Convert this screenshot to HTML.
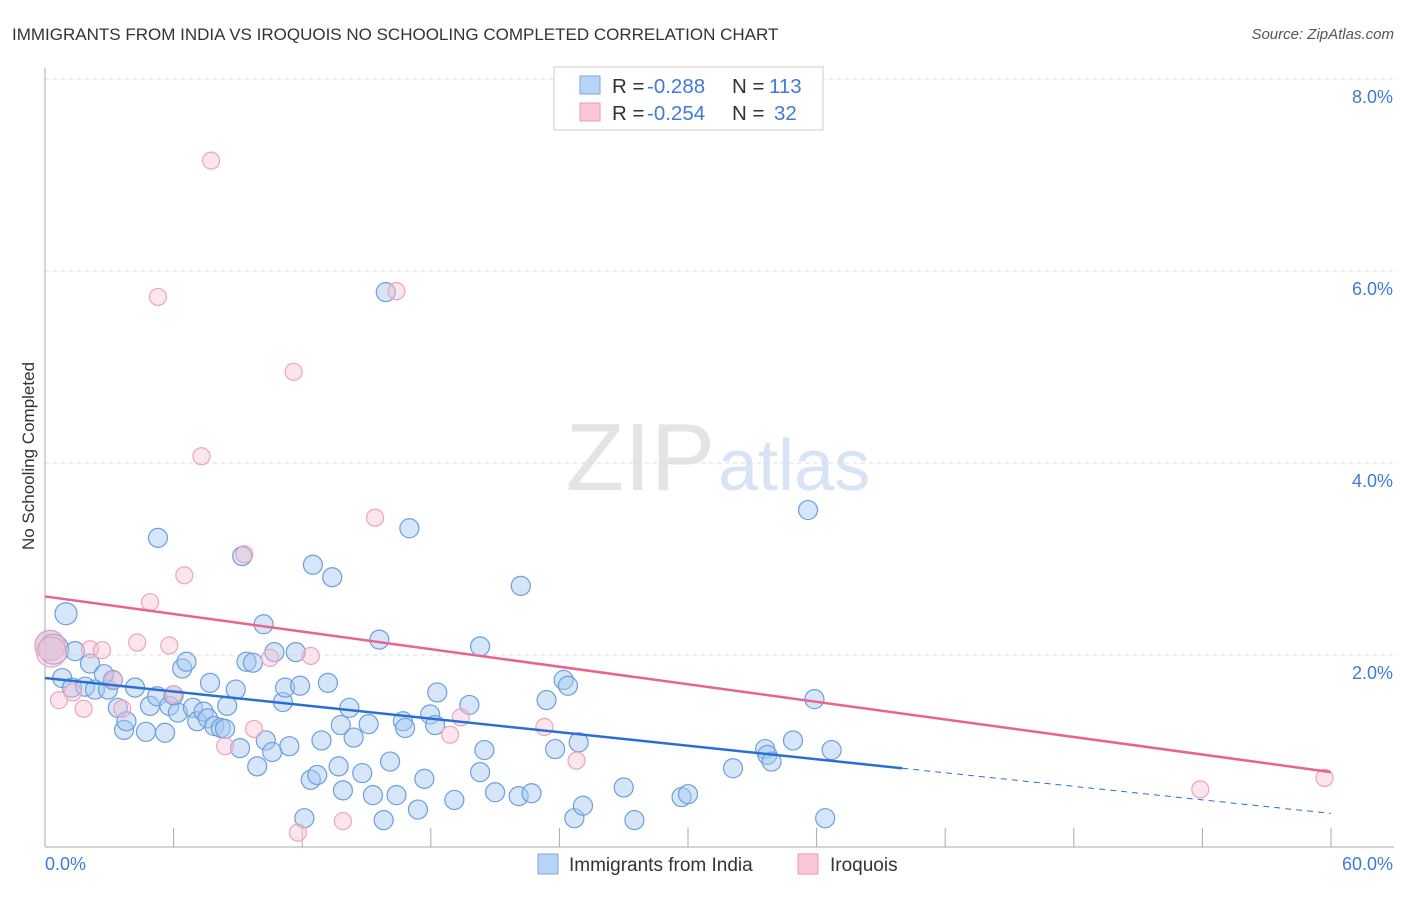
<!DOCTYPE html>
<html><head><meta charset="utf-8"><style>
body{margin:0;background:#fff;font-family:"Liberation Sans",sans-serif;}
svg text{font-family:"Liberation Sans",sans-serif;}
</style></head><body>
<svg width="1406" height="892" xmlns="http://www.w3.org/2000/svg">
<text x="12" y="40" font-size="17" fill="#333">IMMIGRANTS FROM INDIA VS IROQUOIS NO SCHOOLING COMPLETED CORRELATION CHART</text>
<text x="1394" y="39" font-size="15" fill="#555" text-anchor="end" font-style="italic">Source: ZipAtlas.com</text>
<text x="715" y="490" font-size="96" fill="#e4e4e4" text-anchor="end" font-family="Liberation Serif">ZIP</text>
<text x="718" y="490" font-size="72" fill="#d6e4f5">atlas</text>
<g id="grid"></g>
<g id="axes"></g>
<g id="pts"></g>
<g id="lines"></g>
<text transform="translate(34,456) rotate(-90)" font-size="17" fill="#333" text-anchor="middle">No Schooling Completed</text>
<text x="45" y="870" font-size="18" fill="#3d7bd9">0.0%</text>
<text x="1393" y="870" font-size="18" fill="#3d7bd9" text-anchor="end">60.0%</text>
<g>
<rect x="554" y="67" width="269" height="63" fill="#fff" stroke="#ccc"/>
<rect x="580" y="76" width="20" height="18" fill="#b8d3f5" stroke="#7aa7e3"/>
<rect x="580" y="103" width="20" height="18" fill="#f9c7d6" stroke="#ec9ab3"/>
<text x="612" y="93" font-size="20.5" fill="#333">R =</text>
<text x="647" y="93" font-size="20.5" fill="#3d7bd9">-0.288</text>
<text x="732" y="93" font-size="20.5" fill="#333">N =</text>
<text x="769" y="93" font-size="20.5" fill="#3d7bd9">113</text>
<text x="612" y="120" font-size="20.5" fill="#333">R =</text>
<text x="647" y="120" font-size="20.5" fill="#3d7bd9">-0.254</text>
<text x="732" y="120" font-size="20.5" fill="#333">N =</text>
<text x="774" y="120" font-size="20.5" fill="#3d7bd9">32</text>
</g>
<g>
<rect x="538" y="854" width="20" height="20" fill="#b8d3f5" stroke="#7aa7e3"/>
<text x="569" y="871" font-size="19" fill="#333">Immigrants from India</text>
<rect x="798" y="854" width="20" height="20" fill="#f9c7d6" stroke="#ec9ab3"/>
<text x="830" y="871" font-size="19" fill="#333">Iroquois</text>
</g>
</svg>
<script>
const yTicks=[2,4,6,8];
const yTickLabels=["2.0%","4.0%","6.0%","8.0%"];
const xTicks=[0,6,12,18,24,30,36,42,48,54,60];
const indiaX=[0.98,0.23,0.4,1.4,2.1,0.8,1.26,1.87,2.33,2.94,3.17,2.75,4.2,3.4,3.69,3.8,4.71,4.9,5.23,5.6,5.27,5.8,6.2,6.4,6.6,6.0,6.9,7.1,7.4,7.7,7.6,7.9,8.2,8.4,8.5,8.9,9.1,9.2,9.4,9.7,9.9,10.2,10.3,10.6,10.7,11.1,11.2,11.4,11.7,11.9,12.5,12.4,12.7,12.1,12.9,13.2,13.4,13.7,13.9,13.8,14.2,14.4,14.8,15.1,15.3,15.6,15.9,15.8,16.1,16.4,16.7,16.8,17.0,17.4,17.7,17.97,18.2,18.3,19.1,19.8,20.3,20.3,20.5,21.0,22.1,22.2,22.7,23.4,23.8,24.2,24.4,24.7,24.9,25.1,27.0,27.5,29.7,30.0,32.1,33.6,33.7,33.9,34.9,35.6,35.9,36.4,36.7];
const indiaY=[2.43,2.10,2.06,2.04,1.91,1.76,1.66,1.67,1.64,1.64,1.74,1.80,1.66,1.45,1.22,1.31,1.20,1.47,1.57,1.19,3.22,1.47,1.40,1.86,1.93,1.58,1.45,1.31,1.41,1.71,1.34,1.26,1.24,1.23,1.47,1.64,1.03,3.03,1.93,1.92,0.84,2.32,1.11,0.99,2.03,1.51,1.66,1.05,2.03,1.68,2.94,0.70,0.75,0.30,1.11,1.71,2.81,0.84,0.59,1.27,1.45,1.14,0.77,1.28,0.54,2.16,5.78,0.28,0.89,0.54,1.31,1.24,3.32,0.39,0.71,1.38,1.27,1.61,0.49,1.48,0.78,2.09,1.01,0.57,0.53,2.72,0.56,1.53,1.02,1.74,1.68,0.30,1.09,0.43,0.62,0.28,0.52,0.55,0.82,1.02,0.96,0.89,1.11,3.51,1.54,0.30,1.01];
const iroqX=[0.23,0.3,0.65,1.3,1.8,2.1,2.66,3.2,3.6,4.3,4.9,5.27,5.8,6.0,6.5,7.3,7.75,8.4,9.3,9.75,10.5,11.6,11.8,12.4,13.9,15.4,16.4,18.9,19.4,23.3,24.8,53.9,59.7];
const iroqY=[2.10,2.03,1.53,1.61,1.44,2.06,2.05,1.74,1.44,2.13,2.55,5.73,2.10,1.59,2.83,4.07,7.15,1.05,3.05,1.23,1.97,4.95,0.15,1.99,0.27,3.43,5.79,1.17,1.35,1.25,0.90,0.60,0.72];
const indiaTrend=[1.76,0.82,0.35];
const iroqTrend=[2.61,0.78];
const X=v=>45+v*(1286/60), Y=v=>847-v*96;
const NS="http://www.w3.org/2000/svg";
function mk(t,a,p){const e=document.createElementNS(NS,t);for(const k in a)e.setAttribute(k,a[k]);p.appendChild(e);return e;}
const grid=document.getElementById('grid'),axes=document.getElementById('axes'),pts=document.getElementById('pts'),lines=document.getElementById('lines');
yTicks.forEach((t,i)=>{
 const l=mk('line',{x1:45,x2:1394,y1:Y(t),y2:Y(t),stroke:'#ddd','stroke-dasharray':'4,4'},grid);
 
 
 const tx=mk('text',{x:1393,y:Y(t)+24,'font-size':18,fill:'#3d7bd9','text-anchor':'end'},grid);
 tx.textContent=yTickLabels[i];
 
 
});
const topLine=mk('line',{x1:45,x2:1394,y1:79,y2:79,stroke:'#ddd','stroke-dasharray':'4,4'},grid);


const ya=mk('line',{x1:45,x2:45,y1:68,y2:847,stroke:'#aaa'},axes);


const xa=mk('line',{x1:45,x2:1394,y1:847,y2:847,stroke:'#aaa'},axes);


xTicks.forEach(t=>{
 const l=mk('line',{x1:X(t),x2:X(t),y1:828,y2:847,stroke:'#aaa'},axes);
 
 
});
indiaX.forEach((x,i)=>{
 const r=i<3?(i==0?11:15):9.5;
 const c=mk('circle',{cx:X(x),cy:Y(indiaY[i]),r:r,fill:'rgba(164,199,240,0.45)',stroke:'#6a9fe0','stroke-width':1.2},pts);
 
 
});
iroqX.forEach((x,i)=>{
 const r=i<2?15:8.5;
 const c=mk('circle',{cx:X(x),cy:Y(iroqY[i]),r:r,fill:'rgba(248,190,208,0.4)',stroke:'#efa3bb','stroke-width':1.2},pts);
 
 
});
const b1=mk('line',{x1:X(0),y1:Y(indiaTrend[0]),x2:X(40),y2:Y(indiaTrend[1]),stroke:'#2a6fd6','stroke-width':2.5},lines);


const b2=mk('line',{x1:X(40),y1:Y(indiaTrend[1]),x2:X(60),y2:Y(indiaTrend[2]),stroke:'#2a6fd6','stroke-width':1,'stroke-dasharray':'6,5'},lines);


const p1=mk('line',{x1:X(0),y1:Y(iroqTrend[0]),x2:X(60),y2:Y(iroqTrend[1]),stroke:'#e8648f','stroke-width':2.5},lines);


</script>
</body></html>
